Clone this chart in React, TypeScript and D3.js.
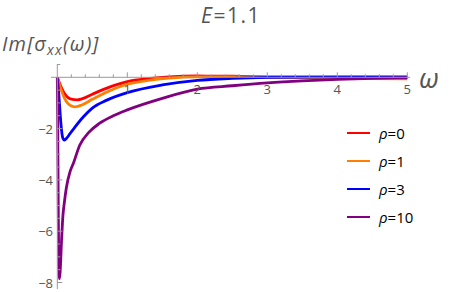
import React from 'react';
import * as d3 from 'd3';

const rho0: [number, number][] = [
  [0, 0], [0.05, -0.35], [0.1, -0.62], [0.15, -0.78], [0.2, -0.85], [0.28, -0.88], [0.35, -0.84],
  [0.5, -0.66], [0.7, -0.43], [1, -0.17], [1.3, -0.05], [1.6, 0.02], [2, 0.05], [2.5, 0.04],
  [3, 0.02], [4, 0.0], [5, 0.0],
];
const rho1: [number, number][] = [
  [0, 0], [0.05, -0.45], [0.1, -0.8], [0.15, -1.02], [0.2, -1.12], [0.26, -1.15], [0.35, -1.08],
  [0.5, -0.86], [0.7, -0.58], [1, -0.27], [1.3, -0.12], [1.6, -0.03], [2, 0.02], [2.5, 0.02],
  [3, 0.0], [4, -0.04], [5, -0.06],
];
const rho3: [number, number][] = [
  [0, 0], [0.02, -0.6], [0.04, -1.4], [0.06, -2.05], [0.08, -2.38], [0.1, -2.45], [0.14, -2.35],
  [0.18, -2.2], [0.25, -1.95], [0.37, -1.55], [0.5, -1.2], [0.7, -0.9], [1, -0.6], [1.5, -0.3],
  [2, -0.12], [2.5, -0.04], [3, 0.0], [4, 0.02], [5, 0.02],
];
const rho10: [number, number][] = [
  [0, 0], [0.005, -1.5], [0.01, -3.5], [0.015, -5.5], [0.02, -7.0], [0.03, -7.85], [0.04, -7.6],
  [0.06, -6.4], [0.08, -5.4], [0.1, -4.9], [0.13, -4.3], [0.18, -3.7], [0.23, -3.35], [0.32, -2.65],
  [0.45, -2.15], [0.6, -1.8], [0.8, -1.5], [1, -1.27], [1.5, -0.82], [2, -0.46], [2.5, -0.33],
  [3, -0.22], [3.5, -0.14], [4, -0.08], [4.5, -0.04], [5, -0.02],
];

const seriesNames = ['ρ=0', 'ρ=1', 'ρ=3', 'ρ=10'];
const seriesData = [rho0, rho1, rho3, rho10];
const seriesColors = ['#ff0000', '#ff8000', '#0000ff', '#800080'];

const xMajor = [1, 2, 3, 4, 5];
const yMajor = [-2, -4, -6, -8];

const W = 450;
const H = 292;

export default function App() {
  const x = d3.scaleLinear().domain([0, 5]).range([57.3, 407.3]);
  const y = d3.scaleLinear().domain([0, -8]).range([77.3, 282.5]);

  const line = d3
    .line<[number, number]>()
    .x((d) => x(d[0]))
    .y((d) => y(d[1]))
    .curve(d3.curveMonotoneX);

  const xMinor = d3.range(0.2, 5.01, 0.2).filter((v) => Math.abs(v - Math.round(v)) > 0.01);
  const yMinor = d3.range(0.5, -8.6, -0.5).filter((v) => Math.abs(v / 2 - Math.round(v / 2)) > 0.01);

  const axisColor = '#999';
  const textColor = '#555';
  const font = '"Open Sans", "DejaVu Sans", sans-serif';

  return (
    <svg
      width={W}
      height={H}
      style={{ position: 'absolute', left: 0, top: 0, background: '#fff' }}
      fontFamily={font}
    >
      {/* title */}
      <text x={231} y={23} textAnchor="middle" fontSize={21} fill={textColor} letterSpacing={1.5}>
        <tspan fontStyle="italic">E</tspan>=1.1
      </text>
      {/* y label */}
      <text x={2} y={51} fontSize={20} fill={textColor} fontStyle="italic" letterSpacing={1.2}>
        Im[σ<tspan fontSize={14} dy={4}>xx</tspan>
        <tspan dy={-4}>(ω)]</tspan>
      </text>
      {/* x label */}
      <text x={419} y={88} fontSize={27} fill={textColor} fontStyle="italic">
        ω
      </text>

      {/* curves */}
      {seriesData.map((s, i) => (
        <path key={i} d={line(s) ?? ''} fill="none" stroke={seriesColors[i]} strokeWidth={2.8} />
      ))}

      {/* x axis */}
      <line x1={51} x2={410} y1={y(0)} y2={y(0)} stroke={axisColor} strokeWidth={1} />
      {xMajor.map((v) => (
        <g key={v}>
          <line x1={x(v)} x2={x(v)} y1={y(0)} y2={y(0) - 5} stroke={axisColor} />
          <text x={x(v)} y={y(0) + 17} textAnchor="middle" fontSize={13} fill={textColor}>
            {v}
          </text>
        </g>
      ))}
      {xMinor.map((v) => (
        <line key={v} x1={x(v)} x2={x(v)} y1={y(0)} y2={y(0) - 3} stroke={axisColor} />
      ))}

      {/* y axis */}
      <line x1={x(0)} x2={x(0)} y1={64} y2={289} stroke={axisColor} strokeWidth={1} />
      {yMajor.map((v) => (
        <g key={v}>
          <line x1={x(0)} x2={x(0) + 5} y1={y(v)} y2={y(v)} stroke={axisColor} />
          <text x={53} y={y(v) + 5} textAnchor="end" fontSize={13} fill={textColor}>
            {'\u2212' + Math.abs(v)}
          </text>
        </g>
      ))}
      {yMinor.map((v) => (
        <line key={v} x1={x(0)} x2={x(0) + 3} y1={y(v)} y2={y(v)} stroke={axisColor} />
      ))}

      {/* legend */}
      {seriesNames.map((n, i) => (
        <g key={n} transform={`translate(0,${133 + i * 28})`}>
          <line x1={347} x2={370} y1={0} y2={0} stroke={seriesColors[i]} strokeWidth={2} />
          <text x={379} y={5.5} fontSize={15} fill="#000">
            <tspan fontStyle="italic">ρ</tspan>
            {n.slice(1)}
          </text>
        </g>
      ))}
    </svg>
  );
}
